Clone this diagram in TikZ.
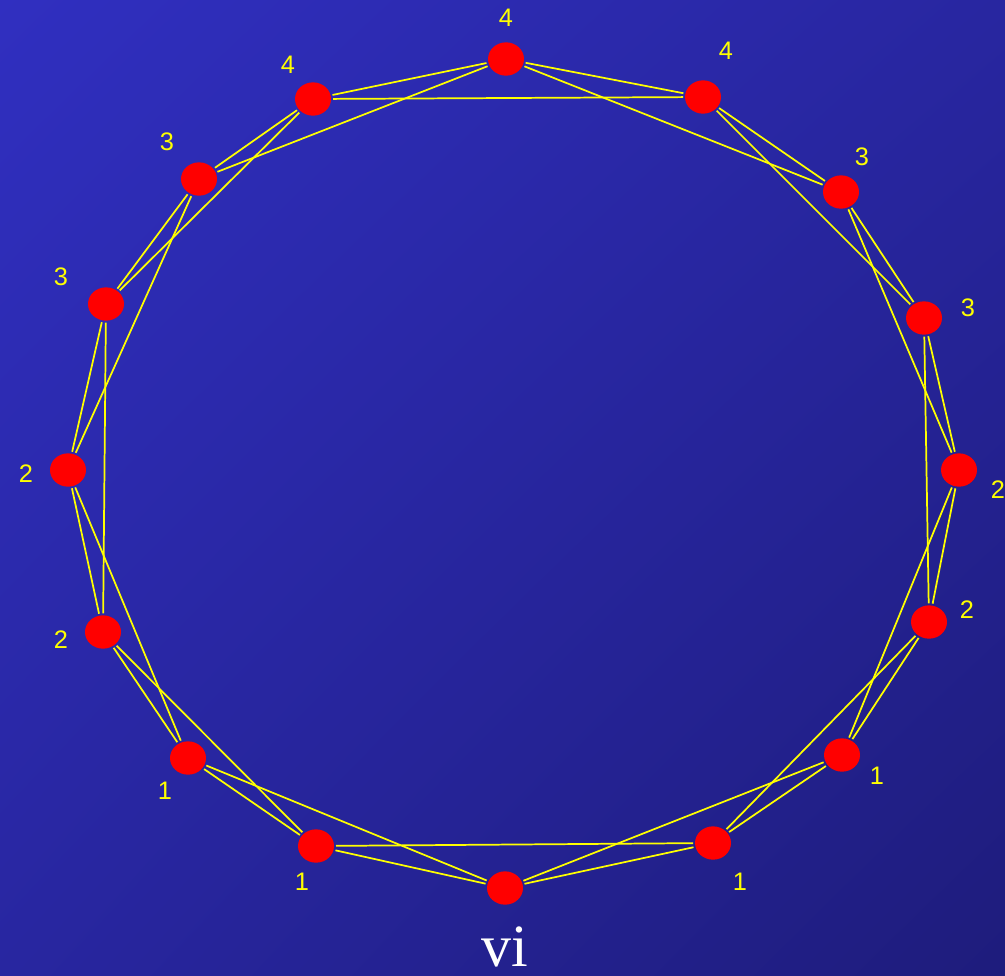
\documentclass[tikz,border=0pt]{standalone}
\usepackage{fontspec}
\usetikzlibrary{shapes.geometric,shadings}
\setmainfont{Liberation Serif}
\newfontfamily\labfont{Liberation Sans}
\definecolor{bgtl}{RGB}{48,47,192}
\definecolor{bgbr}{RGB}{30,28,124}
\definecolor{bgmid}{RGB}{40,38,160}
\definecolor{edgey}{RGB}{255,255,0}
\definecolor{nodered}{RGB}{255,0,0}
\begin{document}
\begin{tikzpicture}[x=0.75pt,y=-0.75pt,
  vert/.style={ellipse, fill=nodered, minimum width=27pt, minimum height=25pt, inner sep=0pt, outer sep=1.5pt},
  edge/.style={draw=edgey, line width=1.3pt},
  lab/.style={text=edgey, font=\labfont\fontsize{19}{22}\selectfont, inner sep=0pt}]
\useasboundingbox (0,0) rectangle (1005,975);
\shade[upper left=bgtl, upper right=bgmid, lower left=bgmid, lower right=bgbr] (0,0) rectangle (1005,975);
% vertices
\node[vert] (v0) at (505,888) {};
\node[vert] (v1) at (713,843) {};
\node[vert] (v2) at (842,755) {};
\node[vert] (v3) at (929,622) {};
\node[vert] (v4) at (959,470) {};
\node[vert] (v5) at (924,318) {};
\node[vert] (v6) at (841,192) {};
\node[vert] (v7) at (703,97) {};
\node[vert] (v8) at (506,59) {};
\node[vert] (v9) at (313,99) {};
\node[vert] (v10) at (199,179) {};
\node[vert] (v11) at (106,304) {};
\node[vert] (v12) at (68,470) {};
\node[vert] (v13) at (103,632) {};
\node[vert] (v14) at (188,758) {};
\node[vert] (v15) at (316,846) {};
% edges: distance 1 and 2
\foreach \i [evaluate=\i as \j using {int(mod(\i+1,16))}, evaluate=\i as \k using {int(mod(\i+2,16))}] in {0,...,15} {
  \draw[edge] (v\i) -- (v\j);
  \draw[edge] (v\i) -- (v\k);
}
% labels
\node[lab] (l1) at (740,882) {1};
\node[lab] (l2) at (877,776) {1};
\node[lab] (l3) at (967,610) {2};
\node[lab] (l4) at (998,490) {2};
\node[lab] (l5) at (968,308) {3};
\node[lab] (l6) at (862,157) {3};
\node[lab] (l7) at (726,51) {4};
\node[lab] (l8) at (506,18) {4};
\node[lab] (l9) at (288,65) {4};
\node[lab] (l10) at (167,142) {3};
\node[lab] (l11) at (61,277) {3};
\node[lab] (l12) at (26,474) {2};
\node[lab] (l13) at (61,640) {2};
\node[lab] (l14) at (165,791) {1};
\node[lab] (l15) at (302,882) {1};
\node[text=white, font=\fontsize{45}{50}\selectfont, inner sep=0pt, anchor=base] (vi) at (505,966) {vi};
\end{tikzpicture}
\end{document}
